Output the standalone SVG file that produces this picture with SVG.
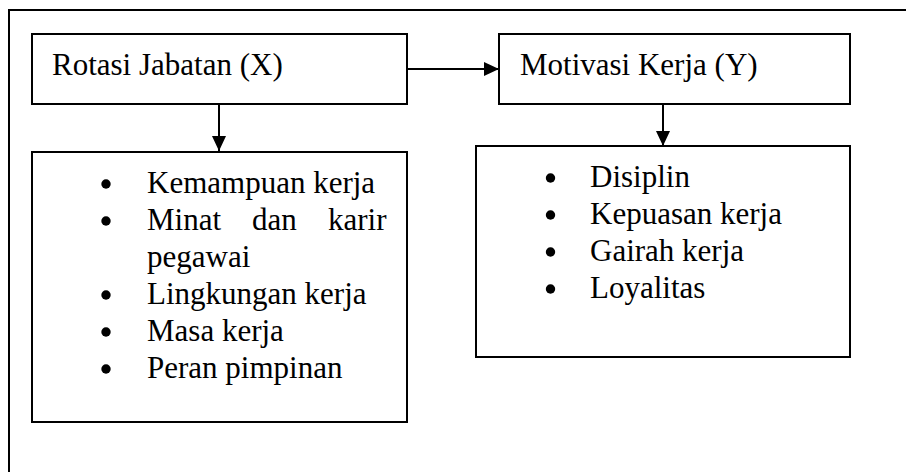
<svg xmlns="http://www.w3.org/2000/svg" width="906" height="472" viewBox="0 0 906 472">
<style>
.box{fill:none;stroke:#000;stroke-width:2}
.frame{fill:none;stroke:#000;stroke-width:2}
.con{stroke:#000;stroke-width:2;fill:none}
.bul{fill:#000}
.lbl{font-family:"Liberation Serif","Times New Roman",serif;font-size:31px;fill:#000}
</style>
<defs>
<marker id="ah" viewBox="0 0 15 14" refX="15" refY="7" markerWidth="15" markerHeight="14" markerUnits="userSpaceOnUse" orient="auto">
<path d="M0,0 L15,7 L0,14 Z" fill="#000"/>
</marker>
</defs>
<rect x="0" y="0" width="906" height="472" fill="#fff"/>
<path class="frame" d="M9,472 L9,10 L906,10"/>
<g id="connectors">
<line class="con" x1="407" y1="69" x2="499" y2="69" marker-end="url(#ah)"/>
<line class="con" x1="219" y1="104" x2="219" y2="151" marker-end="url(#ah)"/>
<line class="con" x1="663" y1="104" x2="663" y2="146" marker-end="url(#ah)"/>
</g>
<g id="rotasi">
<rect class="box" x="32" y="34" width="375" height="70"/>
<text class="lbl" x="52" y="75">Rotasi Jabatan (X)</text>
</g>
<g id="motivasi">
<rect class="box" x="499" y="34" width="351" height="70"/>
<text class="lbl" x="520" y="75">Motivasi Kerja (Y)</text>
</g>
<g id="indikator-x">
<rect class="box" x="32" y="152" width="375" height="270"/>
<circle class="bul" cx="106" cy="184" r="4.7"/>
<text class="lbl" x="147" y="193">Kemampuan kerja</text>
<circle class="bul" cx="106" cy="221" r="4.7"/>
<text class="lbl" x="147" y="230">Minat</text>
<text class="lbl" x="252" y="230">dan</text>
<text class="lbl" x="328" y="230">karir</text>
<text class="lbl" x="147" y="267">pegawai</text>
<circle class="bul" cx="106" cy="295" r="4.7"/>
<text class="lbl" x="147" y="304">Lingkungan kerja</text>
<circle class="bul" cx="106" cy="332" r="4.7"/>
<text class="lbl" x="147" y="341">Masa kerja</text>
<circle class="bul" cx="106" cy="369" r="4.7"/>
<text class="lbl" x="147" y="378">Peran pimpinan</text>
</g>
<g id="indikator-y">
<rect class="box" x="476" y="146" width="374" height="211"/>
<circle class="bul" cx="550.5" cy="178" r="4.7"/>
<text class="lbl" x="590" y="187">Disiplin</text>
<circle class="bul" cx="550.5" cy="215" r="4.7"/>
<text class="lbl" x="590" y="224">Kepuasan kerja</text>
<circle class="bul" cx="550.5" cy="252" r="4.7"/>
<text class="lbl" x="590" y="261">Gairah kerja</text>
<circle class="bul" cx="550.5" cy="289" r="4.7"/>
<text class="lbl" x="590" y="298">Loyalitas</text>
</g>
</svg>
